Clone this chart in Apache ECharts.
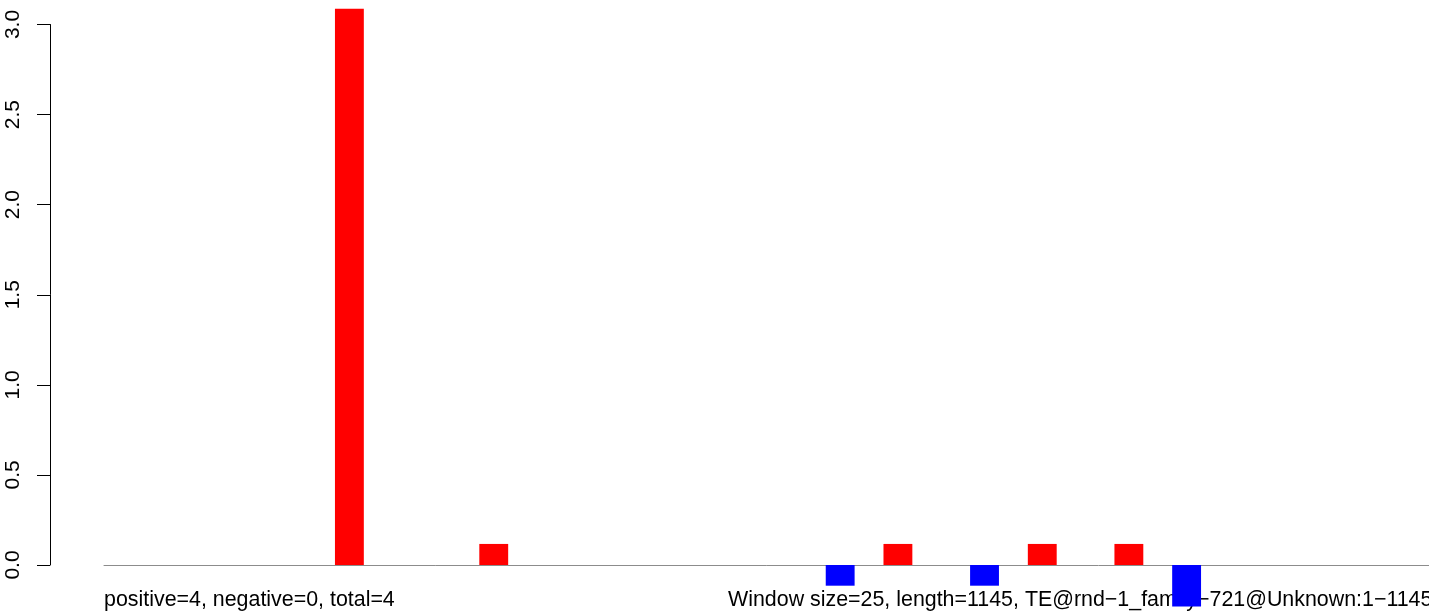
<!DOCTYPE html>
<html>
<head>
<meta charset="utf-8">
<script src="https://cdn.jsdelivr.net/npm/echarts@6/dist/echarts.min.js"></script>
<style>
html, body { margin: 0; padding: 0; background: #fff; }
#chart { width: 1429px; height: 613px; }
</style>
</head>
<body>
<div id="chart"></div>
<script>
// one value per 25bp window (46 windows over 1145bp)
var windows = ['1','2','3','4','5','6','7','8','9','10','11','12','13','14','15','16',
    '17','18','19','20','21','22','23','24','25','26','27','28','29','30','31','32',
    '33','34','35','36','37','38','39','40','41','42','43','44','45','46'];
var scores = [0, 0, 0, 0, 0, 0, 0, 0, 3.09, 0, 0, 0, 0, 0.117, 0, 0,
    0, 0, 0, 0, 0, 0, 0, 0, 0, -0.115, 0, 0.117, 0, 0, -0.115, 0,
    0.117, 0, 0, 0.117, 0, -0.23, 0, 0, 0, 0, 0, 0, 0, 0];
var leftNote = 'positive=4, negative=0, total=4';
var rightNote = 'Window size=25, length=1145, TE@rnd\u22121_family\u2212721@Unknown:1\u22121145';

var myChart = echarts.init(document.getElementById('chart'));

var option = {
    animation: false,
    textStyle: { fontFamily: 'Liberation Sans, Arial, sans-serif' },
    grid: [
        { left: 104, width: 1328, top: 7, bottom: 3, outerBoundsMode: 'none' },
        { left: 50, width: 10, top: 24.5, bottom: 48 }
    ],
    xAxis: [{
        type: 'category',
        gridIndex: 0,
        data: windows,
        axisLine: { onZero: true, lineStyle: { color: '#8c8c8c', width: 1 } },
        axisTick: { show: false },
        axisLabel: { show: false },
        splitLine: { show: false }
    }, {
        type: 'value',
        gridIndex: 1,
        show: false
    }],
    yAxis: [{
        type: 'value',
        gridIndex: 0,
        min: -0.25,
        max: 3.1,
        show: false,
        splitLine: { show: false }
    }, {
        type: 'value',
        gridIndex: 1,
        min: 0,
        max: 3,
        interval: 0.5,
        axisLine: { show: true, lineStyle: { color: '#000', width: 1 } },
        axisTick: { show: true, length: 13, lineStyle: { color: '#000' } },
        axisLabel: {
            rotate: 90,
            margin: 26,
            color: '#000',
            fontSize: 21,
            formatter: function (v) { return v.toFixed(1); }
        },
        splitLine: { show: false }
    }],
    graphic: [{
        type: 'text',
        z: 0,
        left: 104,
        top: 590,
        style: { text: leftNote, fill: '#000', font: '21.4px "Liberation Sans", Arial, sans-serif' }
    }, {
        type: 'text',
        z: 0,
        left: 728,
        top: 590,
        style: { text: rightNote, fill: '#000', font: '21.4px "Liberation Sans", Arial, sans-serif' }
    }],
    series: [{
        type: 'bar',
        xAxisIndex: 0,
        yAxisIndex: 0,
        z: 5,
        barWidth: '100%',
        itemStyle: {
            color: function (p) {
                return p.value < 0 ? '#0000ff' : '#ff0000';
            }
        },
        data: scores
    }]
};
myChart.setOption(option);
</script>
</body>
</html>
